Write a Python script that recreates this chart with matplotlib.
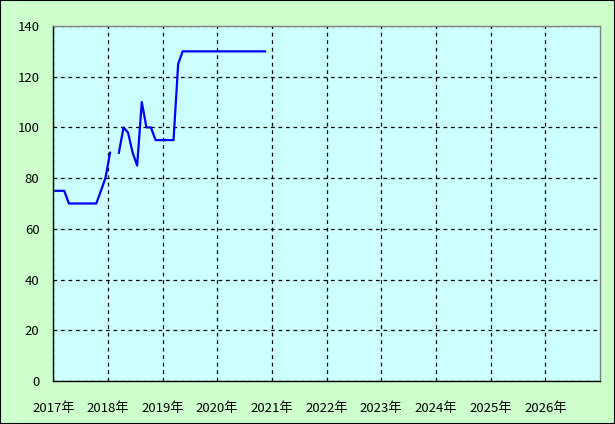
import numpy as np
import pandas as pd
import matplotlib
matplotlib.use("Agg")
import matplotlib.pyplot as plt

plt.rcParams["font.family"] = ["Noto Sans CJK JP", "DejaVu Sans"]

# monthly values, None = no data for that month
prices = [
    75, 75, 75, 70, 70, 70, 70, 70, 70, 70,      # 2017 jan - oct
    75, 80,                                      # 2017 nov - dec
    90, None, 90, 100, 98, 90, 85, 110, 100, 100, 95, 95,  # 2018
    95, 95, 95, 125, 130, 130, 130, 130, 130, 130, 130, 130,  # 2019
    130, 130, 130, 130, 130, 130, 130, 130, 130, 130, 130,    # 2020 jan - nov
]
first_month = "2017-01"

year_ticks = list(range(2017, 2027))
tick_labels = [f"{year}年" for year in year_ticks]
y_ticks = [0, 20, 40, 60, 80, 100, 120, 140]

# plot each value in the middle of its month
months = pd.date_range(first_month, periods=len(prices), freq="MS") + pd.Timedelta(days=14)
values = np.array([np.nan if p is None else p for p in prices], dtype=float)

fig = plt.figure(figsize=(6.15, 4.24), dpi=100, facecolor="#CCFFCC")
ax = fig.add_axes([0.0867, 0.1014, 0.8889, 0.8373])
ax.set_facecolor("#CCFFFF")

ax.plot(months, values, color="#0000FF", linewidth=1.6)

ax.set_xlim(pd.Timestamp("2017-01-01"), pd.Timestamp("2027-01-01"))
ax.set_ylim(0, 140)

ax.set_xticks([pd.Timestamp(f"{year}-01-01") for year in year_ticks])
ax.set_xticklabels(tick_labels)
ax.set_yticks(y_ticks)

ax.grid(True, color="black", linestyle=(0, (3, 3)), linewidth=0.9)
ax.tick_params(length=0, labelsize=9.5, colors="black")
ax.tick_params(axis="x", pad=15)
ax.tick_params(axis="y", pad=10)

for side in ["left", "bottom"]:
    ax.spines[side].set_color("black")
    ax.spines[side].set_linewidth(1.0)
for side in ["top", "right"]:
    ax.spines[side].set_color("#808080")
    ax.spines[side].set_linewidth(1.0)

# thin black frame round the whole picture
fig.patches.append(plt.Rectangle((0, 0), 1, 1, transform=fig.transFigure,
                                 fill=False, edgecolor="black", linewidth=1.5))

fig.savefig("out.png", dpi=100, facecolor=fig.get_facecolor())
